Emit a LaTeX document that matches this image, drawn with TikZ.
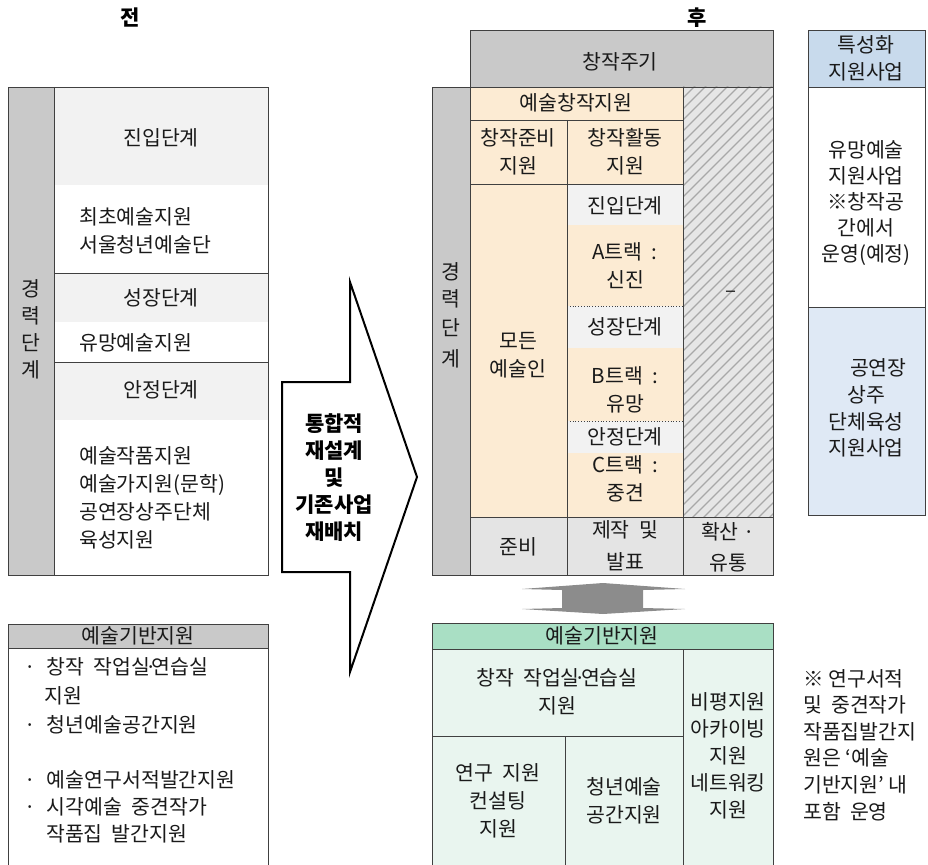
\documentclass[tikz,border=0pt]{standalone}
\usepackage{fontspec}
\setmainfont{Noto Sans CJK KR}
\definecolor{colgray}{HTML}{C9C9C9}
\definecolor{band}{HTML}{F2F2F2}
\definecolor{beige}{HTML}{FCEBD3}
\definecolor{rowgray}{HTML}{E4E4E4}
\definecolor{hatchbg}{HTML}{E6E6E6}
\definecolor{hatchln}{HTML}{A8A8A8}
\definecolor{greenhd}{HTML}{A9DFC4}
\definecolor{greenbd}{HTML}{E9F5EF}
\definecolor{bluehd}{HTML}{C8DAEC}
\definecolor{bluebd}{HTML}{DFE9F5}
\definecolor{ink}{HTML}{1A1A1A}
\definecolor{edge}{HTML}{404040}
\newcommand{\mdot}{\kern-0.25em·\kern-0.25em}
\newcommand{\bul}{·\hspace{0.55em}}
\begin{document}
\begin{tikzpicture}[x=1pt,y=-1pt,
  txt/.style={font=\fontsize{20.5}{28}\selectfont, text=ink, inner sep=0pt, align=center},
  ltxt/.style={txt, anchor=west, align=left},
  ttl/.style={font=\fontsize{21}{24}\selectfont\bfseries, text=black, inner sep=0pt},
  btxt/.style={font=\fontsize{21}{27}\selectfont\bfseries, text=black, inner sep=0pt, align=center},
  ln/.style={draw=edge, line width=0.9pt}]
\useasboundingbox (0,0) rectangle (928,864);

% titles
\node[ttl] (tbefore) at (130,18) {전};
\node[ttl] (tafter) at (697,18) {후};

% ===== left top box =====
\fill[colgray] (8,87) rectangle (54,575);
\fill[band] (54,87) rectangle (268,185);
\fill[band] (54,273) rectangle (268,322);
\fill[band] (54,362) rectangle (268,420);
\fill[white] (54,185) rectangle (268,273);
\draw[ln] (54,273) -- (268,273);
\draw[ln] (54,362) -- (268,362);
\draw[ln] (8,87) rectangle (268,575);
\draw[ln] (54,87) -- (54,575);
\node[txt] (lk1) at (31,289) {경};
\node[txt] (lk2) at (31,316) {력};
\node[txt] (lk3) at (31,343) {단};
\node[txt] (lk4) at (31,370) {계};
\node[txt] (lent) at (161,138) {진입단계};
\node[ltxt] (lentp) at (79,231) {최초예술지원\\서울청년예술단};
\node[txt] (lgrow) at (161,298) {성장단계};
\node[ltxt] (lgrowp) at (79,343) {유망예술지원};
\node[txt] (lstab) at (161,390) {안정단계};
\node[ltxt] (lstabp) at (79,498) {예술작품지원\\예술가지원(문학)\\공연장상주단체\\육성지원};

% ===== left bottom box =====
\fill[colgray] (8,624) rectangle (268,648);
\draw[ln] (8,866) -- (8,624) -- (268,624) -- (268,866);
\draw[ln] (8,648) -- (268,648);
\node[txt] (lbase) at (138,636) {예술기반지원};
\node[ltxt] (lb1) at (24,667) {\bul 창작\ \ 작업실\mdot 연습실};
\node[ltxt] (lb1b) at (44,696) {지원};
\node[ltxt] (lb2) at (24,725) {\bul 청년예술공간지원};
\node[ltxt] (lb3) at (24,780) {\bul 예술연구서적발간지원};
\node[ltxt] (lb4) at (24,807) {\bul 시각예술\ \ 중견작가};
\node[ltxt] (lb4b) at (46,834) {작품집\ \ 발간지원};

% ===== big arrow =====
\draw[line width=2pt, fill=white, line join=miter]
  (282,382) -- (350,382) -- (350,282) -- (417,477) -- (350,672) -- (350,572) -- (282,572) -- cycle;
\node[btxt] (arrtxt) at (334,478) {통합적\\재설계\\및\\기존사업\\재배치};

% ===== right top =====
\fill[colgray] (470,30) rectangle (773,87);
\draw[ln] (470,30) rectangle (773,87);
\node[txt] (cycle) at (620,62) {창작주기};

\fill[colgray] (432,87) rectangle (470,575);
\fill[beige] (470,87) rectangle (683,517);
\fill[band] (567,184) rectangle (683,225);
\fill[band] (567,306) rectangle (683,348);
\fill[band] (567,421) rectangle (683,453);
\fill[hatchbg] (683,87) rectangle (773,517);
\begin{scope}
  \clip (683,87) rectangle (773,517);
  \foreach \a in {240,251,...,790} {
    \draw[hatchln, line width=1.1pt] (\a,530) -- (\a+450,80);
  }
\end{scope}
\fill[rowgray] (470,517) rectangle (773,575);
\draw[ln] (470,120) -- (683,120);
\draw[ln] (470,184) -- (683,184);
\draw[ln] (567,120) -- (567,575);
\draw[ln] (683,87) -- (683,575);
\draw[ln] (470,517) -- (773,517);
\draw[ln] (470,87) -- (470,575);
\draw[edge, line width=0.8pt, dotted] (567,306) -- (683,306);
\draw[edge, line width=0.8pt, dotted] (567,421) -- (683,421);
\draw[ln] (432,87) rectangle (773,575);

\node[txt] (rk1) at (451,272) {경};
\node[txt] (rk2) at (451,299) {력};
\node[txt] (rk3) at (451,328) {단};
\node[txt] (rk4) at (451,359) {계};
\node[txt] (create) at (576,103) {예술창작지원};
\node[txt] (prep) at (518,152) {창작준비\\지원};
\node[txt] (act) at (625,152) {창작활동\\지원};
\node[txt] (all) at (518,355) {모든\\예술인};
\node[txt] (rent) at (625,206) {진입단계};
\node[txt] (tra) at (625,266) {A트랙\ \ :\\신진};
\node[txt] (rgrow) at (625,327) {성장단계};
\node[txt] (trb) at (625,390) {B트랙\ \ :\\유망};
\node[txt] (rstab) at (625,437) {안정단계};
\node[txt] (trc) at (625,479) {C트랙\ \ :\\중견};
\node[txt] (dash) at (731,294) {–};
\node[txt] (rprep) at (518,547) {준비};
\node[txt, font=\fontsize{20.5}{32}\selectfont] (rmake) at (625,546) {제작\ \ 및\\발표};
\node[txt, font=\fontsize{20.5}{31}\selectfont] (rdist) at (728,547) {확산\ ·\\유통};

% ===== double arrow =====
\fill[gray!90]
  (603,583) -- (685,589) -- (643,590) -- (643,608) -- (685,609) -- (603,614)
  -- (522,609) -- (562,608) -- (562,590) -- (522,589) -- cycle;
\coordinate (dtop) at (603,583);
\coordinate (dbot) at (603,614);

% ===== right bottom box =====
\fill[greenbd] (432,623) rectangle (773,868);
\fill[greenhd] (432,623) rectangle (773,649);
\draw[ln] (432,868) -- (432,623) -- (773,623) -- (773,868);
\draw[ln] (432,649) -- (773,649);
\draw[ln] (432,736) -- (683,736);
\draw[ln] (565,736) -- (565,868);
\draw[ln] (683,649) -- (683,868);
\node[txt] (rbase) at (602,636) {예술기반지원};
\node[txt] (studio) at (557,692) {창작\ \ 작업실\mdot 연습실\\지원};
\node[txt] (research) at (498,801) {연구\ \ 지원\\컨설팅\\지원};
\node[txt] (youth) at (624,801) {청년예술\\공간지원};
\node[txt, font=\fontsize{20.5}{27}\selectfont] (critic) at (728,756) {비평지원\\아카이빙\\지원\\네트워킹\\지원};

% ===== special programs =====
\fill[bluehd] (808,30) rectangle (925,87);
\fill[white] (808,87) rectangle (925,307);
\fill[bluebd] (808,307) rectangle (925,515);
\draw[ln] (808,30) rectangle (925,515);
\draw[ln] (808,87) -- (925,87);
\draw[ln] (808,307) -- (925,307);
\node[txt, font=\fontsize{20.5}{27}\selectfont] (sp) at (866,58) {특성화\\지원사업};
\node[txt, font=\fontsize{20.5}{25.8}\selectfont] (sp1) at (866,203) {유망예술\\지원사업\\※창작공\\간에서\\운영(예정)};
\node[txt, font=\fontsize{20.5}{26.7}\selectfont] (sp2) at (866,408) {\hspace*{1.2em}공연장\\상주\\단체육성\\지원사업};

% ===== note =====
\node[txt, anchor=north west, align=left, font=\fontsize{20.5}{26.6}\selectfont] (note) at (803,669)
  {※\ 연구서적\\및\ \ 중견작가\\작품집발간지\\원은\ ‘예술\\기반지원’\ 내\\포함\ \ 운영};
\end{tikzpicture}
\end{document}
